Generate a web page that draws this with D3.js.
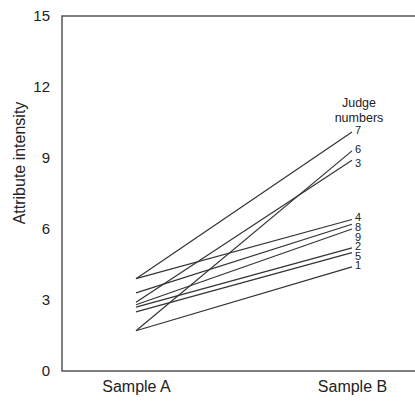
<!DOCTYPE html>
<html>
<head>
<meta charset="utf-8">
<script src="https://cdn.jsdelivr.net/npm/d3@7"></script>
<style>
  body { margin: 0; background: #fff; }
  text { font-family: "Liberation Sans", Arial, sans-serif; fill: #222; }
</style>
</head>
<body>
<div id="chart-area"></div>
<script>
// data
var samples = ["Sample A", "Sample B"];
var judges = ["1", "2", "3", "4", "5", "6", "7", "8", "9"];
var sampleA = [1.7, 2.7, 2.9, 3.9, 2.5, 1.7, 3.9, 3.3, 2.8];
var sampleB = [4.4, 5.2, 8.9, 6.4, 5.0, 9.3, 10.1, 6.2, 6.0];
var yTicks = [0, 3, 6, 9, 12, 15];

var width = 415, height = 403;
var margin = {left: 62, top: 16, bottom: 32};

var svg = d3.select("#chart-area").append("svg")
    .attr("width", width)
    .attr("height", height);

var x = d3.scalePoint()
    .domain(samples)
    .range([136, 352]);

var y = d3.scaleLinear()
    .domain([0, 15])
    .range([height - margin.bottom, margin.top]);

// frame (runs off the right edge like the original)
svg.append("rect")
    .attr("x", margin.left)
    .attr("y", y(15))
    .attr("width", 400)
    .attr("height", y(0) - y(15))
    .attr("fill", "none")
    .attr("stroke", "#555")
    .attr("stroke-width", 1.5);

// y axis labels
var yAxis = svg.append("g")
    .attr("transform", "translate(" + (margin.left - 1) + ",0)")
    .call(d3.axisLeft(y).tickValues(yTicks).tickSize(0).tickPadding(11));
yAxis.select(".domain").remove();
yAxis.selectAll("text")
    .attr("font-size", "15px")
    .attr("font-family", "Liberation Sans, Arial, sans-serif")
    .attr("fill", "#222");

// x axis labels
var xAxis = svg.append("g")
    .attr("transform", "translate(0," + y(0) + ")")
    .call(d3.axisBottom(x).tickSize(0).tickPadding(10));
xAxis.select(".domain").remove();
xAxis.selectAll("text")
    .attr("font-size", "16px")
    .attr("font-family", "Liberation Sans, Arial, sans-serif")
    .attr("fill", "#222");

// y axis title
svg.append("text")
    .attr("transform", "rotate(-90)")
    .attr("x", -163)
    .attr("y", 25)
    .attr("font-size", "16px")
    .attr("text-anchor", "middle")
    .text("Attribute intensity");

// judge lines
var data = judges.map(function (j, i) {
    return {judge: j, a: sampleA[i], b: sampleB[i]};
});

svg.selectAll(".judge")
    .data(data)
    .enter()
    .append("line")
    .attr("class", "judge")
    .attr("x1", x("Sample A"))
    .attr("y1", function (d) { return y(d.a); })
    .attr("x2", x("Sample B"))
    .attr("y2", function (d) { return y(d.b); })
    .attr("stroke", "#333")
    .attr("stroke-width", 1.2);

// judge number labels, spread so they don't overlap
var labels = data.slice().sort(function (p, q) { return q.b - p.b; });
var lastY = -100;
labels.forEach(function (d) {
    var ly = y(d.b) - 2;
    if (ly < lastY + 9.6) ly = lastY + 9.6;
    d.ly = ly;
    lastY = ly;
});
labels[2].ly += 5; // judge 3 sits a little lower in the original

svg.selectAll(".jlabel")
    .data(labels)
    .enter()
    .append("text")
    .attr("class", "jlabel")
    .attr("x", x("Sample B") + 3)
    .attr("y", function (d) { return d.ly; })
    .attr("dy", "0.35em")
    .attr("font-size", "11px")
    .text(function (d) { return d.judge; });

svg.append("text")
    .attr("x", x("Sample B") + 7)
    .attr("y", y(10.1) - 25)
    .attr("font-size", "12.5px")
    .attr("text-anchor", "middle")
    .text("Judge");
svg.append("text")
    .attr("x", x("Sample B") + 7)
    .attr("y", y(10.1) - 10)
    .attr("font-size", "12.5px")
    .attr("text-anchor", "middle")
    .text("numbers");
</script>
</body>
</html>
